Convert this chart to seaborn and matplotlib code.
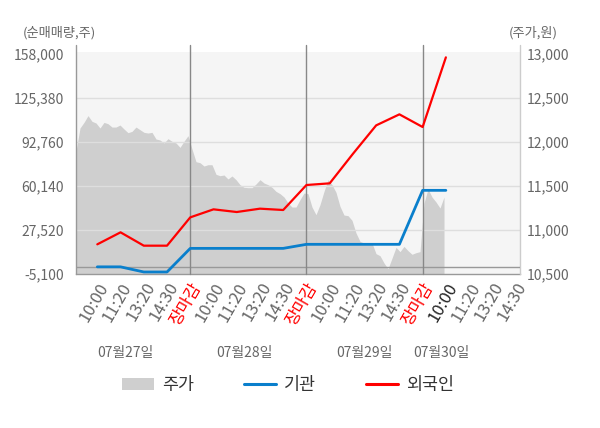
import numpy as np
import matplotlib
matplotlib.use("Agg")
import matplotlib.pyplot as plt
import seaborn as sns
from matplotlib.patches import Patch
from matplotlib.lines import Line2D

# ---------------- data ----------------
time_labels = ["10:00", "11:20", "13:20", "14:30", "장마감"] * 3 + ["10:00", "11:20", "13:20", "14:30"]
date_labels = ["07월27일", "07월28일", "07월29일", "07월30일"]
date_label_pos = [1.2, 6.35, 11.5, 14.8]

# net buying (shares), one value per time slot
institution = [200, 200, -3600, -3600, 13900, 13900, 13900, 13900, 13900,
               16900, 16900, 16900, 16900, 16900, 56930, 56930]
foreigner = [16900, 25790, 15900, 15900, 36900, 42840, 40860, 43340, 42350,
             60880, 62120, 84000, 105100, 113270, 103880, 155530]

# stock price (won), intraday trace
price = [11894, 12159, 12223, 12300, 12235, 12216, 12159, 12223, 12208, 12170,
         12170, 12193, 12148, 12106, 12121, 12170, 12140, 12110, 12102, 12110,
         12034, 12023, 11989, 12038, 12008, 11989, 11939, 12008, 12072, 11920,
         11776, 11765, 11727, 11742, 11742, 11633, 11617, 11625, 11580, 11614,
         11572, 11515, 11485, 11481, 11481, 11523, 11572, 11534, 11515, 11485,
         11439, 11413, 11375, 11307, 11261, 11261, 11345, 11420, 11413, 11261,
         11174, 11288, 11439, 11572, 11515, 11428, 11269, 11170, 11163, 11110,
         10966, 10871, 10852, 10845, 10852, 10731, 10708, 10625, 10560, 10680,
         10803, 10754, 10814, 10765, 10724, 10742, 10754, 11307, 11466, 11375,
         11318, 11250, 11375]

vol_ticks = [-5100, 27520, 60140, 92760, 125380, 158000]
price_ticks = [10500, 11000, 11500, 12000, 12500, 13000]
close_positions = [4, 9, 14]

# ---------------- style ----------------
sns.set_style("white")
plt.rcParams['font.family'] = ['Noto Sans CJK KR', 'DejaVu Sans']

GRAY_TXT = '#666666'
fig = plt.figure(figsize=(6, 4.28), dpi=100)
ax = fig.add_axes([76 / 600, 1 - 274 / 428, 444 / 600, 222 / 428])
ax.set_facecolor('#f5f5f5')

x_min, x_max = -0.917, 18.19
price_x = np.linspace(x_min, 14.92, len(price))
ax.fill_between(price_x, price_ticks[0], price, color='#cfcfcf', lw=0, zorder=1)
ax.set_xlim(x_min, x_max)
ax.set_ylim(10500, 13023)
for t in price_ticks[1:-1]:
    ax.axhline(t, color='#dedede', lw=1, zorder=2)

# volume axis (left)
ax_v = ax.twinx()
ax_v.set_ylim(-5100, 159500)
ax_v.axhline(0, color='#999999', lw=1, zorder=1)
for c in close_positions:
    ax_v.axvline(c, ymin=0, ymax=1.032, color='#888888', lw=1, clip_on=False, zorder=1)

idx = np.arange(len(foreigner))
sns.lineplot(x=idx, y=institution, ax=ax_v, color='#0a7fcc', lw=2.0, zorder=3)
sns.lineplot(x=idx, y=foreigner, ax=ax_v, color='#ff0000', lw=1.6, zorder=4)

# spines
for a in (ax, ax_v):
    for s in ('top', 'left', 'right'):
        a.spines[s].set_visible(False)
ax_v.spines['bottom'].set_visible(False)
ax.spines['bottom'].set_color('#999999')
ax.spines['bottom'].set_linewidth(1)
ax.plot([0, 0], [0, 1.032], transform=ax.transAxes, color='#999999', lw=1, clip_on=False, zorder=5)
ax.plot([1, 1], [0, 1.032], transform=ax.transAxes, color='#cccccc', lw=1, clip_on=False, zorder=5)

# y ticks
ax_v.yaxis.set_ticks_position('left')
ax_v.yaxis.set_label_position('left')
ax_v.set_yticks(vol_ticks)
ax_v.set_yticklabels([f"{v:,}" for v in vol_ticks])
ax_v.tick_params(axis='y', length=0, pad=8.6, labelsize=10, labelcolor=GRAY_TXT)
ax_v.set_ylabel('')

ax.yaxis.set_ticks_position('right')
ax.set_yticks(price_ticks)
ax.set_yticklabels([f"{v:,}" for v in price_ticks])
ax.tick_params(axis='y', length=0, pad=5, labelsize=10, labelcolor=GRAY_TXT)

# x ticks
ax.set_xticks(np.arange(len(time_labels)))
ax.set_xticklabels(time_labels, rotation=60, ha='right', rotation_mode='anchor', fontsize=12)
ax.tick_params(axis='x', which='major', length=0, pad=4)
for i, lab in enumerate(ax.get_xticklabels()):
    if time_labels[i] == "장마감":
        lab.set_color('#ff0000')
    elif i == 15:
        lab.set_color('#222222')
    else:
        lab.set_color(GRAY_TXT)
ax.set_xticks([x_min] + close_positions + [x_max], minor=True)
ax.tick_params(axis='x', which='minor', length=4, width=1, color='#999999', direction='out')

# date labels
for pos, lab in zip(date_label_pos, date_labels):
    ax.text(pos, -0.356, lab, transform=ax.get_xaxis_transform(), ha='center', va='center',
            fontsize=10, color=GRAY_TXT)

# axis titles
fig.text(23 / 600, 1 - 33 / 428, "(순매매량,주)", ha='left', va='center', fontsize=9.5, color=GRAY_TXT)
fig.text(509 / 600, 1 - 33 / 428, "(주가,원)", ha='left', va='center', fontsize=9.5, color=GRAY_TXT)

# legend
handles = [Patch(facecolor='#cfcfcf', edgecolor='none'),
           Line2D([0], [0], color='#0a7fcc', lw=2.2),
           Line2D([0], [0], color='#ff0000', lw=2.2)]
leg = fig.legend(handles, ["주가", "기관", "외국인"], loc='center',
                 bbox_to_anchor=(288 / 600, 1 - 385 / 428), ncol=3, frameon=False,
                 fontsize=12.5, handlelength=1.85, handletextpad=0.45, columnspacing=2.9)
for t in leg.get_texts():
    t.set_color('#333333')

fig.savefig("out.png", dpi=100)
